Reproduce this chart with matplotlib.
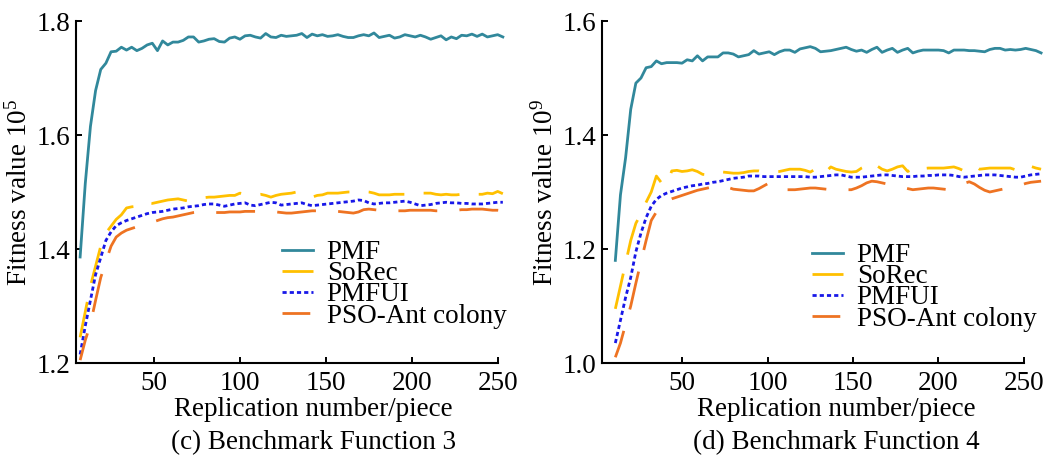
import matplotlib
matplotlib.use("Agg")
import matplotlib.pyplot as plt
import numpy as np

plt.rcParams['font.family'] = ['Liberation Serif', 'DejaVu Serif']
plt.rcParams['mathtext.fontset'] = 'custom'
plt.rcParams['mathtext.rm'] = 'Liberation Serif'
plt.rcParams['mathtext.it'] = 'Liberation Serif:italic'
plt.rcParams['lines.scale_dashes'] = False

labels = ["PMF", "SoRec", "PMFUI", "PSO-Ant colony"]

# (c) Benchmark Function 3
x_c = np.arange(7, 255, 3)
pmf_c = [1.386, 1.515, 1.615, 1.678, 1.715, 1.726, 1.746, 1.747, 1.754, 1.749,
         1.754, 1.748, 1.752, 1.758, 1.761, 1.748, 1.765, 1.758, 1.763, 1.763,
         1.766, 1.772, 1.772, 1.763, 1.765, 1.768, 1.769, 1.764, 1.763, 1.770,
         1.772, 1.768, 1.774, 1.775, 1.772, 1.770, 1.778, 1.772, 1.771, 1.775,
         1.773, 1.774, 1.775, 1.778, 1.771, 1.777, 1.774, 1.776, 1.773, 1.774,
         1.776, 1.773, 1.771, 1.771, 1.774, 1.776, 1.774, 1.779, 1.771, 1.773,
         1.775, 1.770, 1.772, 1.776, 1.774, 1.772, 1.775, 1.772, 1.768, 1.771,
         1.774, 1.767, 1.772, 1.769, 1.775, 1.774, 1.777, 1.773, 1.777, 1.772,
         1.774, 1.776, 1.772]
sorec_c = [1.245, 1.290, 1.335, 1.370, 1.405, 1.428, 1.440, 1.452, 1.460, 1.472,
           1.474, 1.475, 1.474, 1.481, 1.480, 1.482, 1.484, 1.486, 1.487, 1.488,
           1.486, 1.484, 1.488, 1.488, 1.490, 1.491, 1.491, 1.492, 1.493, 1.494,
           1.494, 1.498, 1.496, 1.495, 1.495, 1.496, 1.494, 1.491, 1.494, 1.496,
           1.497, 1.498, 1.500, 1.499, 1.494, 1.491, 1.494, 1.495, 1.498, 1.498,
           1.498, 1.499, 1.500, 1.500, 1.502, 1.501, 1.500, 1.498, 1.495, 1.495,
           1.495, 1.496, 1.496, 1.496, 1.495, 1.496, 1.498, 1.498, 1.498, 1.496,
           1.495, 1.496, 1.495, 1.495, 1.496, 1.498, 1.497, 1.496, 1.496, 1.498,
           1.497, 1.501, 1.497]
pmfui_c = [1.215, 1.265, 1.310, 1.355, 1.385, 1.415, 1.430, 1.441, 1.446, 1.450,
           1.453, 1.456, 1.459, 1.462, 1.464, 1.465, 1.466, 1.468, 1.470, 1.471,
           1.472, 1.474, 1.475, 1.476, 1.478, 1.479, 1.479, 1.477, 1.475, 1.477,
           1.479, 1.480, 1.481, 1.477, 1.476, 1.478, 1.480, 1.482, 1.481, 1.477,
           1.478, 1.479, 1.480, 1.481, 1.478, 1.476, 1.477, 1.478, 1.479, 1.480,
           1.481, 1.482, 1.483, 1.484, 1.486, 1.485, 1.481, 1.479, 1.480, 1.481,
           1.481, 1.482, 1.483, 1.484, 1.482, 1.479, 1.476, 1.477, 1.478, 1.480,
           1.481, 1.482, 1.481, 1.481, 1.480, 1.480, 1.479, 1.479, 1.479, 1.480,
           1.481, 1.482, 1.482]
pso_c = [1.205, 1.240, 1.268, 1.310, 1.350, 1.378, 1.405, 1.421, 1.428, 1.433,
         1.436, 1.439, 1.442, 1.445, 1.447, 1.450, 1.453, 1.455, 1.456, 1.458,
         1.460, 1.462, 1.464, 1.465, 1.465, 1.465, 1.464, 1.464, 1.464, 1.465,
         1.465, 1.465, 1.466, 1.466, 1.466, 1.466, 1.466, 1.465, 1.465, 1.464,
         1.463, 1.463, 1.464, 1.465, 1.466, 1.467, 1.467, 1.467, 1.467, 1.467,
         1.466, 1.465, 1.464, 1.463, 1.465, 1.469, 1.470, 1.469, 1.468, 1.468,
         1.467, 1.467, 1.467, 1.467, 1.468, 1.468, 1.468, 1.468, 1.468, 1.467,
         1.467, 1.467, 1.467, 1.468, 1.469, 1.469, 1.470, 1.470, 1.470, 1.469,
         1.468, 1.468, 1.467]

# (d) Benchmark Function 4
x_d = np.arange(11, 261, 3)
pmf_d = [1.180, 1.295, 1.360, 1.445, 1.491, 1.500, 1.518, 1.520, 1.530, 1.525,
         1.527, 1.527, 1.527, 1.526, 1.532, 1.530, 1.539, 1.530, 1.537, 1.537,
         1.537, 1.544, 1.544, 1.542, 1.537, 1.539, 1.541, 1.548, 1.542, 1.544,
         1.546, 1.541, 1.546, 1.549, 1.549, 1.545, 1.551, 1.553, 1.555, 1.552,
         1.546, 1.547, 1.548, 1.550, 1.552, 1.554, 1.550, 1.547, 1.549, 1.545,
         1.550, 1.554, 1.545, 1.549, 1.552, 1.545, 1.549, 1.552, 1.544, 1.547,
         1.549, 1.549, 1.549, 1.549, 1.548, 1.544, 1.549, 1.549, 1.549, 1.548,
         1.548, 1.547, 1.546, 1.550, 1.552, 1.552, 1.549, 1.550, 1.549, 1.550,
         1.552, 1.550, 1.548, 1.544]
sorec_d = [1.095, 1.135, 1.175, 1.215, 1.245, 1.262, 1.282, 1.300, 1.328, 1.316,
           1.312, 1.337, 1.338, 1.336, 1.337, 1.339, 1.336, 1.331, 1.330, 1.331,
           1.335, 1.335, 1.334, 1.333, 1.333, 1.334, 1.336, 1.337, 1.337, 1.335,
           1.336, 1.336, 1.336, 1.338, 1.340, 1.340, 1.340, 1.338, 1.335, 1.340,
           1.344, 1.335, 1.344, 1.340, 1.338, 1.336, 1.335, 1.336, 1.342, 1.346,
           1.339, 1.346, 1.340, 1.337, 1.340, 1.344, 1.346, 1.336, 1.340, 1.346,
           1.341, 1.342, 1.342, 1.342, 1.342, 1.343, 1.344, 1.341, 1.337, 1.342,
           1.347, 1.340, 1.341, 1.342, 1.342, 1.342, 1.342, 1.342, 1.339, 1.339,
           1.347, 1.345, 1.342, 1.340]
pmfui_d = [1.035, 1.075, 1.115, 1.150, 1.195, 1.228, 1.255, 1.275, 1.287, 1.294,
           1.298, 1.301, 1.304, 1.307, 1.309, 1.311, 1.312, 1.314, 1.315, 1.317,
           1.318, 1.320, 1.322, 1.324, 1.325, 1.326, 1.328, 1.328, 1.328, 1.327,
           1.327, 1.327, 1.327, 1.327, 1.327, 1.327, 1.327, 1.327, 1.326, 1.326,
           1.327, 1.328, 1.329, 1.330, 1.330, 1.328, 1.326, 1.326, 1.326, 1.327,
           1.328, 1.329, 1.330, 1.330, 1.329, 1.328, 1.327, 1.327, 1.327, 1.328,
           1.328, 1.329, 1.329, 1.330, 1.330, 1.330, 1.329, 1.327, 1.326, 1.327,
           1.328, 1.329, 1.330, 1.330, 1.330, 1.329, 1.328, 1.327, 1.326, 1.326,
           1.328, 1.330, 1.331, 1.332]
pso_d = [1.010, 1.035, 1.068, 1.100, 1.140, 1.178, 1.215, 1.250, 1.265, 1.278,
         1.284, 1.288, 1.291, 1.294, 1.297, 1.300, 1.303, 1.305, 1.307, 1.309,
         1.311, 1.312, 1.308, 1.305, 1.304, 1.303, 1.302, 1.302, 1.306, 1.311,
         1.316, 1.311, 1.306, 1.304, 1.304, 1.304, 1.305, 1.306, 1.307, 1.307,
         1.306, 1.305, 1.304, 1.304, 1.304, 1.304, 1.304, 1.307, 1.311, 1.316,
         1.319, 1.318, 1.316, 1.314, 1.312, 1.310, 1.308, 1.306, 1.304, 1.305,
         1.306, 1.307, 1.307, 1.306, 1.305, 1.304, 1.307, 1.311, 1.315, 1.318,
         1.314, 1.308, 1.303, 1.300, 1.302, 1.304, 1.306, 1.308, 1.310, 1.312,
         1.315, 1.317, 1.318, 1.319]

colors = ["#31889B", "#FFC000", "#1818E8", "#EE7322"]
styles = [(None, None), (0, (26, 14)), (0, (3.0, 2.2)), (8, (28, 16))]
FS = 19.5


def draw(ax, x, series, xlim, ylim, yticks, ylabel, caption, legend_xy, label_x):
    for y, lab, c, (off, dash) in zip(series, labels, colors, styles):
        if dash is None:
            ax.plot(x, y, color=c, lw=2.0, label=lab)
        else:
            ax.plot(x, y, color=c, lw=2.0, linestyle=(off, dash), label=lab)

    ax.set_xlim(*xlim)
    ax.set_ylim(*ylim)
    ax.set_xticks([50, 100, 150, 200, 250])
    ax.set_yticks(yticks)
    ax.set_yticklabels(["%.1f" % t for t in yticks])
    ax.tick_params(direction='in', length=4, width=1.4, labelsize=FS)
    ax.tick_params(axis='y', pad=4)
    ax.tick_params(axis='x', pad=6)
    ax.spines['top'].set_visible(False)
    ax.spines['right'].set_visible(False)
    ax.spines['left'].set_linewidth(1.5)
    ax.spines['bottom'].set_linewidth(1.5)
    ax.spines['bottom'].set_bounds(xlim[0], 250)

    ax.set_ylabel(ylabel, fontsize=FS, labelpad=3)
    ax.set_xlabel("Replication number/piece", fontsize=FS)
    ax.xaxis.set_label_coords(label_x, -0.1)
    ax.text(label_x, -0.195, caption, transform=ax.transAxes,
            ha='center', va='top', fontsize=FS)

    ax.legend(loc='upper left', bbox_to_anchor=legend_xy,
              bbox_transform=ax.figure.transFigure, frameon=False,
              fontsize=FS, handlelength=1.15, handletextpad=0.5,
              labelspacing=-0.14, borderpad=0, borderaxespad=0)


fig = plt.figure(figsize=(10.61, 4.61), dpi=100)
ax1 = fig.add_axes([76 / 1061, 98 / 461, 432 / 1061, 342 / 461])
ax2 = fig.add_axes([602 / 1061, 98 / 461, 442.5 / 1061, 342 / 461])

draw(ax1, x_c, [pmf_c, sorec_c, pmfui_c, pso_c], (4.6, 256), (1.2, 1.8),
     [1.2, 1.4, 1.6, 1.8], "Fitness value 10$^{5}$",
     "(c) Benchmark Function 3", (282 / 1061, 1 - 240 / 461), 0.549)
draw(ax2, x_d, [pmf_d, sorec_d, pmfui_d, pso_d], (3.2, 262), (1.0, 1.6),
     [1.0, 1.2, 1.4, 1.6], "Fitness value 10$^{9}$",
     "(d) Benchmark Function 4", (812 / 1061, 1 - 243 / 461), 0.53)

fig.savefig("out.png", dpi=100)
